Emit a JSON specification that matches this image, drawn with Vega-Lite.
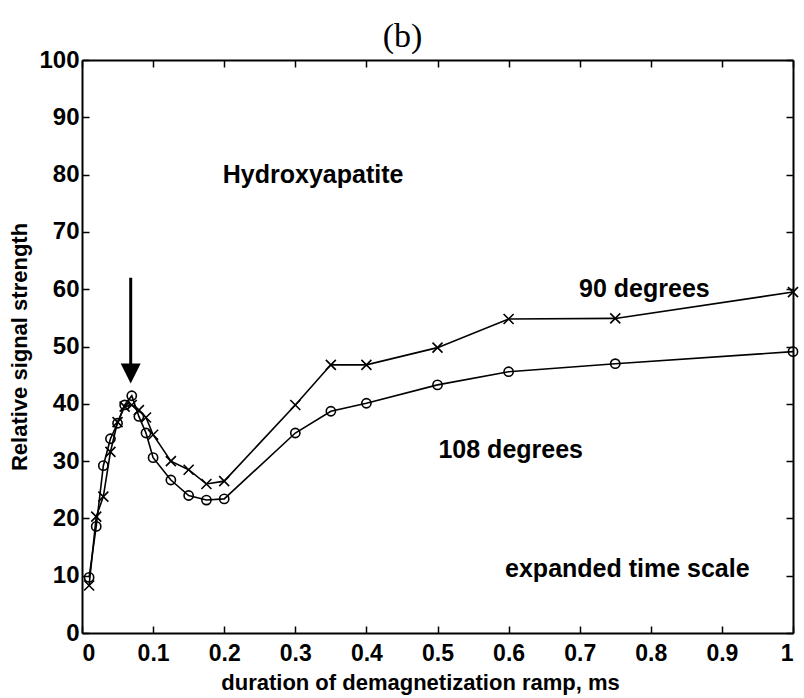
{
  "$schema": "https://vega.github.io/schema/vega-lite/v6.json",
  "width": 711,
  "height": 573,
  "autosize": {"type": "none"},
  "padding": {"left": 82, "top": 60, "right": 11, "bottom": 65},
  "background": "white",
  "title": {"text": "(b)", "font": "Liberation Serif", "fontSize": 34, "fontWeight": "normal", "color": "black", "dx": -35, "dy": 8, "offset": 2},
  "config": {
    "view": {"stroke": null},
    "axis": {
      "domainColor": "black", "domainWidth": 2, "tickColor": "black", "tickWidth": 1.5,
      "tickSize": -7, "grid": false, "labelColor": "black", "labelFont": "Liberation Sans",
      "labelFontSize": 23, "labelFontWeight": "bold", "titleFont": "Liberation Sans", "titleFontSize": 22,
      "titleFontWeight": "bold", "titleColor": "black"
    }
  },
  "datasets": {
    "d90": [
      {"t": 0.01, "s": 8.3}, {"t": 0.02, "s": 20.3}, {"t": 0.03, "s": 23.8}, {"t": 0.04, "s": 31.6},
      {"t": 0.05, "s": 36.8}, {"t": 0.06, "s": 39.5}, {"t": 0.07, "s": 39.8}, {"t": 0.08, "s": 38.9},
      {"t": 0.09, "s": 37.6}, {"t": 0.1, "s": 34.6}, {"t": 0.125, "s": 30.0}, {"t": 0.15, "s": 28.5},
      {"t": 0.175, "s": 26.0}, {"t": 0.2, "s": 26.5}, {"t": 0.3, "s": 39.8}, {"t": 0.35, "s": 46.8},
      {"t": 0.4, "s": 46.8}, {"t": 0.5, "s": 49.8}, {"t": 0.6, "s": 54.8}, {"t": 0.75, "s": 54.9},
      {"t": 1.0, "s": 59.5}
    ],
    "d108": [
      {"t": 0.01, "s": 9.7}, {"t": 0.02, "s": 18.6}, {"t": 0.03, "s": 29.2}, {"t": 0.04, "s": 33.9},
      {"t": 0.05, "s": 36.6}, {"t": 0.06, "s": 39.8}, {"t": 0.07, "s": 41.4}, {"t": 0.08, "s": 37.8},
      {"t": 0.09, "s": 34.9}, {"t": 0.1, "s": 30.6}, {"t": 0.125, "s": 26.7}, {"t": 0.15, "s": 24.0},
      {"t": 0.175, "s": 23.2}, {"t": 0.2, "s": 23.4}, {"t": 0.3, "s": 34.9}, {"t": 0.35, "s": 38.7},
      {"t": 0.4, "s": 40.1}, {"t": 0.5, "s": 43.3}, {"t": 0.6, "s": 45.6}, {"t": 0.75, "s": 47.0},
      {"t": 1.0, "s": 49.1}
    ],
    "labels": [
      {"t": 0.325, "s": 80.0, "label": "Hydroxyapatite"},
      {"t": 0.791, "s": 60.1, "label": "90 degrees"},
      {"t": 0.603, "s": 32.0, "label": "108 degrees"},
      {"t": 0.767, "s": 11.1, "label": "expanded time scale"}
    ],
    "arrowShaft": [{"t": 0.0685, "s": 62.0, "s2": 46.5}],
    "arrowHead": [{"t": 0.0685, "s": 45.3}]
  },
  "layer": [
    {
      "data": {"name": "d90"},
      "mark": {"type": "line", "color": "black", "strokeWidth": 1.6},
      "encoding": {
        "x": {"field": "t", "type": "quantitative", "scale": {"domain": [0, 1], "nice": false},
          "axis": {"values": [0, 0.1, 0.2, 0.3, 0.4, 0.5, 0.6, 0.7, 0.8, 0.9, 1], "format": "~g", "labelPadding": 16, "title": "duration of demagnetization ramp, ms", "titlePadding": 7, "titleX": 338}},
        "y": {"field": "s", "type": "quantitative", "scale": {"domain": [0, 100], "nice": false},
          "axis": {"values": [0, 10, 20, 30, 40, 50, 60, 70, 80, 90, 100], "labelPadding": 10, "labelFontSize": 24, "title": "Relative signal strength", "titlePadding": 7}}
      }
    },
    {
      "data": {"name": "d90"},
      "mark": {"type": "point", "shape": "M-1,-1L1,1M1,-1L-1,1", "filled": false, "color": "black", "strokeWidth": 1.6, "size": 100, "opacity": 1},
      "encoding": {
        "x": {"field": "t", "type": "quantitative", "axis": {"orient": "top", "values": [0, 0.1, 0.2, 0.3, 0.4, 0.5, 0.6, 0.7, 0.8, 0.9, 1], "labels": false, "title": null}},
        "y": {"field": "s", "type": "quantitative", "axis": {"orient": "right", "values": [0, 10, 20, 30, 40, 50, 60, 70, 80, 90, 100], "labels": false, "title": null}}
      }
    },
    {
      "data": {"name": "d108"},
      "mark": {"type": "line", "color": "black", "strokeWidth": 1.6},
      "encoding": {
        "x": {"field": "t", "type": "quantitative", "axis": null},
        "y": {"field": "s", "type": "quantitative", "axis": null}
      }
    },
    {
      "data": {"name": "d108"},
      "mark": {"type": "point", "shape": "circle", "filled": false, "color": "black", "strokeWidth": 1.6, "size": 85, "opacity": 1},
      "encoding": {
        "x": {"field": "t", "type": "quantitative", "axis": null},
        "y": {"field": "s", "type": "quantitative", "axis": null}
      }
    },
    {
      "data": {"name": "labels"},
      "mark": {"type": "text", "font": "Liberation Sans", "fontSize": 25, "fontWeight": "bold", "color": "black", "align": "center", "baseline": "middle"},
      "encoding": {
        "x": {"field": "t", "type": "quantitative", "axis": null},
        "y": {"field": "s", "type": "quantitative", "axis": null},
        "text": {"field": "label"}
      }
    },
    {
      "data": {"name": "arrowShaft"},
      "mark": {"type": "rule", "color": "black", "strokeWidth": 3},
      "encoding": {
        "x": {"field": "t", "type": "quantitative", "axis": null},
        "y": {"field": "s", "type": "quantitative", "axis": null},
        "y2": {"field": "s2"}
      }
    },
    {
      "data": {"name": "arrowHead"},
      "mark": {"type": "point", "shape": "M-1,-1L1,-1L0,1Z", "filled": true, "color": "black", "size": 400, "opacity": 1},
      "encoding": {
        "x": {"field": "t", "type": "quantitative", "axis": null},
        "y": {"field": "s", "type": "quantitative", "axis": null}
      }
    }
  ],
  "resolve": {"axis": {"x": "independent", "y": "independent"}}
}
